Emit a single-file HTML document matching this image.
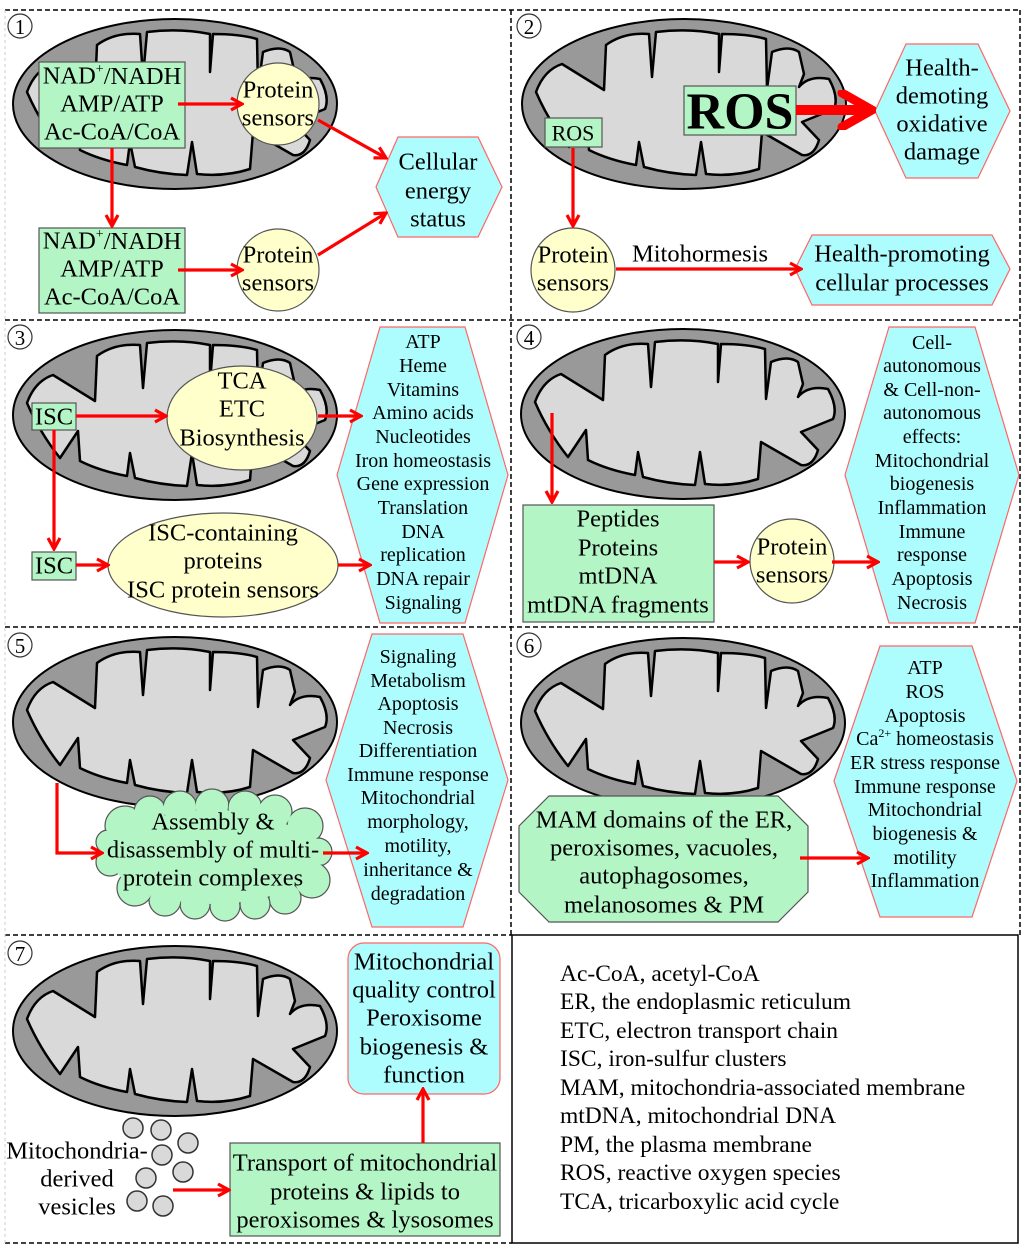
<!DOCTYPE html>
<html><head><meta charset="utf-8"><style>
html,body{margin:0;padding:0;background:#fff}
svg{display:block}
text{font-family:"Liberation Serif","Times New Roman",serif;fill:#000}
</style></head><body>
<svg width="1024" height="1250" viewBox="0 0 1024 1250" xmlns="http://www.w3.org/2000/svg" font-family="Liberation Serif, serif">
<defs>
<marker id="a" markerUnits="userSpaceOnUse" markerWidth="16" markerHeight="16" viewBox="0 0 16 16" refX="14" refY="8" orient="auto">
<path d="M3,2 L14,8 L3,14" fill="none" stroke="#f00" stroke-width="3.2" stroke-linejoin="miter"/>
</marker>
<marker id="b" markerUnits="userSpaceOnUse" markerWidth="40" markerHeight="40" viewBox="0 0 40 40" refX="36" refY="20" orient="auto">
<path d="M6,3 L36,20 L6,37" fill="none" stroke="#f00" stroke-width="9" stroke-linecap="round"/>
</marker>
<g id="mito">
<ellipse cx="175" cy="92" rx="162" ry="85" fill="#999" stroke="#000" stroke-width="2"/>
<path d="M27,80 Q35,58 53,52 L95,78 L97,33 Q115,20 140,22 L143,65 L147,20 Q180,16 210,22 L210,60 L213,22 Q240,22 257,27 L258,77 L263,40 Q280,33 290,40 L295,62 L290,75 Q300,63 320,67 Q330,85 325,97 L293,110 L310,128 Q305,145 293,143 L253,120 L250,157 Q225,165 197,162 L192,130 L187,163 Q160,162 135,155 L130,130 L127,153 Q100,148 80,138 L78,108 L60,135 Q40,110 27,80 Z" fill="#d9d9d9" stroke="#000" stroke-width="2.5" stroke-linejoin="round"/>
</g>
</defs>

<!-- dividers -->
<g stroke="#000" stroke-width="1.5" stroke-dasharray="5,3" fill="none">
<line x1="5" y1="10" x2="1020" y2="10"/>
<line x1="5" y1="320" x2="1020" y2="320"/>
<line x1="5" y1="627" x2="1020" y2="627"/>
<line x1="5" y1="935" x2="512" y2="935"/>
<line x1="5" y1="1243" x2="512" y2="1243"/>
<line x1="511" y1="10" x2="511" y2="935"/>
<line x1="1020" y1="10" x2="1020" y2="935"/>
</g>
<g stroke="#ccc" stroke-width="1" stroke-dasharray="3,3"><line x1="5" y1="10" x2="5" y2="1243"/></g>
<rect x="512" y="935" width="506" height="308" fill="none" stroke="#000" stroke-width="1.5"/>

<!-- numbers -->
<g fill="none" stroke="#333" stroke-width="1.2">
<circle cx="20" cy="26" r="12"/><circle cx="529" cy="26" r="12"/>
<circle cx="20" cy="337" r="12"/><circle cx="529" cy="337" r="12"/>
<circle cx="20" cy="645" r="12"/><circle cx="529" cy="645" r="12"/>
<circle cx="20" cy="953" r="12"/>
</g>
<g font-size="21" text-anchor="middle" dominant-baseline="central">
<text x="20" y="27">1</text><text x="529" y="27">2</text>
<text x="20" y="338">3</text><text x="529" y="338">4</text>
<text x="20" y="646">5</text><text x="529" y="646">6</text>
<text x="20" y="954">7</text>
</g>

<!-- mitochondria -->
<use href="#mito" transform="translate(0,12)"/>
<use href="#mito" transform="translate(509,12)"/>
<use href="#mito" transform="translate(0,323)"/>
<use href="#mito" transform="translate(508,322)"/>
<use href="#mito" transform="translate(0,630)"/>
<use href="#mito" transform="translate(508,631)"/>
<use href="#mito" transform="translate(0,939)"/>

<g font-size="24.5" text-anchor="middle" dominant-baseline="central">
<!-- Panel 1 -->
<rect x="39" y="62" width="146" height="86" fill="#b4f5c6" stroke="#555" stroke-width="1.2"/>
<text x="112" y="76">NAD<tspan font-size="14" dy="-7">+</tspan><tspan dy="7">/NADH</tspan></text>
<text x="112" y="104">AMP/ATP</text>
<text x="112" y="132">Ac-CoA/CoA</text>
<circle cx="278" cy="104" r="41" fill="#ffffcc" stroke="#555" stroke-width="1.2"/>
<text x="278" y="90">Protein</text><text x="278" y="118">sensors</text>
<polygon points="376,187 398,137 478,137 502,187 478,237 398,237" fill="#adfdff" stroke="#f66" stroke-width="1.2"/>
<text x="438" y="162">Cellular</text><text x="438" y="191">energy</text><text x="438" y="219">status</text>
<rect x="39" y="228" width="146" height="85" fill="#b4f5c6" stroke="#555" stroke-width="1.2"/>
<text x="112" y="241">NAD<tspan font-size="14" dy="-7">+</tspan><tspan dy="7">/NADH</tspan></text>
<text x="112" y="269">AMP/ATP</text>
<text x="112" y="297">Ac-CoA/CoA</text>
<circle cx="278" cy="270" r="41" fill="#ffffcc" stroke="#555" stroke-width="1.2"/>
<text x="278" y="255">Protein</text><text x="278" y="283">sensors</text>

<!-- Panel 2 -->
<rect x="545" y="118" width="57" height="29" fill="#b4f5c6" stroke="#555" stroke-width="1.2"/>
<text x="573" y="133" font-size="22">ROS</text>
<rect x="684" y="86" width="112" height="49" fill="#b4f5c6" stroke="#555" stroke-width="1.2"/>
<text x="740" y="112" font-size="52" font-weight="bold">ROS</text>
<polygon points="875,111 906,44 978,44 1010,111 978,178 906,178" fill="#adfdff" stroke="#f66" stroke-width="1.2"/>
<text x="942" y="68">Health-</text><text x="942" y="96">demoting</text><text x="942" y="124">oxidative</text><text x="942" y="152">damage</text>
<circle cx="573" cy="270" r="42" fill="#ffffcc" stroke="#555" stroke-width="1.2"/>
<text x="573" y="255">Protein</text><text x="573" y="283">sensors</text>
<text x="700" y="254">Mitohormesis</text>
<polygon points="795,269 812,235 992,235 1010,269 992,305 812,305" fill="#adfdff" stroke="#f66" stroke-width="1.2"/>
<text x="902" y="254">Health-promoting</text><text x="902" y="283">cellular  processes</text>

<!-- Panel 3 -->
<rect x="32" y="403" width="44" height="27" fill="#b4f5c6" stroke="#555" stroke-width="1.2"/>
<text x="54" y="417">ISC</text>
<ellipse cx="242" cy="418" rx="75" ry="52" fill="#ffffcc" stroke="#555" stroke-width="1.2"/>
<text x="242" y="381">TCA</text><text x="242" y="409">ETC</text><text x="242" y="438">Biosynthesis</text>
<rect x="32" y="552" width="44" height="28" fill="#b4f5c6" stroke="#555" stroke-width="1.2"/>
<text x="54" y="566">ISC</text>
<ellipse cx="223" cy="565" rx="115" ry="52" fill="#ffffcc" stroke="#555" stroke-width="1.2"/>
<text x="223" y="533">ISC-containing</text><text x="223" y="561">proteins</text><text x="223" y="590">ISC protein sensors</text>
<polygon points="337,475 380,327 465,327 508,475 465,623 380,623" fill="#adfdff" stroke="#f66" stroke-width="1.2"/>
<g font-size="20">
<text x="423" y="342">ATP</text><text x="423" y="366">Heme</text><text x="423" y="390">Vitamins</text><text x="423" y="413">Amino acids</text><text x="423" y="437">Nucleotides</text><text x="423" y="461">Iron homeostasis</text><text x="423" y="484">Gene expression</text><text x="423" y="508">Translation</text><text x="423" y="532">DNA</text><text x="423" y="555">replication</text><text x="423" y="579">DNA repair</text><text x="423" y="603">Signaling</text>
</g>

<!-- Panel 4 -->
<rect x="523" y="505" width="191" height="117" fill="#b4f5c6" stroke="#555" stroke-width="1.2"/>
<text x="618" y="519">Peptides</text><text x="618" y="548">Proteins</text><text x="618" y="576">mtDNA</text><text x="618" y="605">mtDNA fragments</text>
<circle cx="792" cy="561" r="42" fill="#ffffcc" stroke="#555" stroke-width="1.2"/>
<text x="792" y="547">Protein</text><text x="792" y="575">sensors</text>
<polygon points="845,475 889,327 975,327 1019,475 975,623 889,623" fill="#adfdff" stroke="#f66" stroke-width="1.2"/>
<g font-size="20">
<text x="932" y="343">Cell-</text><text x="932" y="366">autonomous</text><text x="932" y="390">&amp; Cell-non-</text><text x="932" y="413">autonomous</text><text x="932" y="437">effects:</text><text x="932" y="461">Mitochondrial</text><text x="932" y="484">biogenesis</text><text x="932" y="508">Inflammation</text><text x="932" y="532">Immune</text><text x="932" y="555">response</text><text x="932" y="579">Apoptosis</text><text x="932" y="603">Necrosis</text>
</g>

<!-- Panel 5 cloud -->
<g fill="#b4f5c6" stroke="#555" stroke-width="1.2">
<circle cx="125" cy="826" r="20"/><circle cx="150" cy="812" r="16"/><circle cx="180" cy="808" r="17"/><circle cx="212" cy="806" r="17"/><circle cx="245" cy="808" r="17"/><circle cx="275" cy="812" r="17"/><circle cx="305" cy="826" r="18"/><circle cx="318" cy="852" r="14"/><circle cx="312" cy="880" r="18"/><circle cx="285" cy="898" r="16"/><circle cx="255" cy="904" r="15"/><circle cx="225" cy="906" r="15"/><circle cx="195" cy="904" r="15"/><circle cx="165" cy="900" r="16"/><circle cx="135" cy="888" r="18"/><circle cx="110" cy="862" r="14"/><circle cx="108" cy="842" r="12"/>
</g>
<g fill="#b4f5c6">
<circle cx="125" cy="826" r="19"/><circle cx="150" cy="812" r="15"/><circle cx="180" cy="808" r="16"/><circle cx="212" cy="806" r="16"/><circle cx="245" cy="808" r="16"/><circle cx="275" cy="812" r="16"/><circle cx="305" cy="826" r="17"/><circle cx="318" cy="852" r="13"/><circle cx="312" cy="880" r="17"/><circle cx="285" cy="898" r="15"/><circle cx="255" cy="904" r="14"/><circle cx="225" cy="906" r="14"/><circle cx="195" cy="904" r="14"/><circle cx="165" cy="900" r="15"/><circle cx="135" cy="888" r="17"/><circle cx="110" cy="862" r="13"/><circle cx="108" cy="842" r="11"/>
<ellipse cx="213" cy="857" rx="102" ry="47"/>
</g>
<text x="213" y="822">Assembly &amp;</text><text x="213" y="850">disassembly of multi-</text><text x="213" y="878">protein complexes</text>
<polygon points="326,780 372,634 463,634 508,780 463,927 372,927" fill="#adfdff" stroke="#f66" stroke-width="1.2"/>
<g font-size="20">
<text x="418" y="657">Signaling</text><text x="418" y="681">Metabolism</text><text x="418" y="704">Apoptosis</text><text x="418" y="728">Necrosis</text><text x="418" y="751">Differentiation</text><text x="418" y="775">Immune response</text><text x="418" y="798">Mitochondrial</text><text x="418" y="822">morphology,</text><text x="418" y="846">motility,</text><text x="418" y="870">inheritance &amp;</text><text x="418" y="894">degradation</text>
</g>

<!-- Panel 6 -->
<polygon points="549,796 778,796 808,826 808,892 778,922 549,922 519,892 519,826" fill="#b4f5c6" stroke="#555" stroke-width="1.2"/>
<text x="664" y="820">MAM domains of the ER,</text><text x="664" y="848">peroxisomes, vacuoles,</text><text x="664" y="876">autophagosomes,</text><text x="664" y="905">melanosomes &amp; PM</text>
<polygon points="834,781 880,646 972,646 1017,781 972,917 880,917" fill="#adfdff" stroke="#f66" stroke-width="1.2"/>
<g font-size="20">
<text x="925" y="668">ATP</text><text x="925" y="692">ROS</text><text x="925" y="716">Apoptosis</text><text x="925" y="739">Ca<tspan font-size="12" dy="-6">2+</tspan><tspan dy="6"> homeostasis</tspan></text><text x="925" y="763">ER stress response</text><text x="925" y="787">Immune response</text><text x="925" y="810">Mitochondrial</text><text x="925" y="834">biogenesis &amp;</text><text x="925" y="858">motility</text><text x="925" y="881">Inflammation</text>
</g>

<!-- Panel 7 -->
<rect x="348" y="943" width="152" height="151" rx="16" fill="#adfdff" stroke="#f66" stroke-width="1.2"/>
<text x="424" y="962">Mitochondrial</text><text x="424" y="990">quality control</text><text x="424" y="1018">Peroxisome</text><text x="424" y="1047">biogenesis &amp;</text><text x="424" y="1075">function</text>
<rect x="230" y="1143" width="270" height="93" fill="#b4f5c6" stroke="#555" stroke-width="1.2"/>
<text x="365" y="1163">Transport of mitochondrial</text><text x="365" y="1192">proteins &amp; lipids to</text><text x="365" y="1220">peroxisomes &amp; lysosomes</text>
<g fill="#d9d9d9" stroke="#333" stroke-width="1.5">
<circle cx="133" cy="1128" r="10"/><circle cx="161" cy="1130" r="10"/><circle cx="188" cy="1143" r="10"/><circle cx="162" cy="1155" r="10"/><circle cx="146" cy="1178" r="10"/><circle cx="183" cy="1172" r="10"/><circle cx="137" cy="1201" r="10"/><circle cx="163" cy="1206" r="10"/>
</g>
<text x="77" y="1151">Mitochondria-</text><text x="77" y="1179">derived</text><text x="77" y="1207">vesicles</text>
</g>

<!-- legend -->
<g font-size="23.5" dominant-baseline="central">
<text x="560" y="974">Ac-CoA, acetyl-CoA</text>
<text x="560" y="1002">ER, the endoplasmic reticulum</text>
<text x="560" y="1031">ETC, electron transport chain</text>
<text x="560" y="1059">ISC, iron-sulfur clusters</text>
<text x="560" y="1088">MAM, mitochondria-associated membrane</text>
<text x="560" y="1116">mtDNA, mitochondrial DNA</text>
<text x="560" y="1145">PM, the plasma membrane</text>
<text x="560" y="1173">ROS, reactive  oxygen species</text>
<text x="560" y="1202">TCA, tricarboxylic acid cycle</text>
</g>

<!-- arrows -->
<g stroke="#f00" stroke-width="3.2" fill="none" marker-end="url(#a)">
<line x1="178" y1="104" x2="242" y2="104"/>
<line x1="318" y1="120" x2="386" y2="158"/>
<line x1="112" y1="148" x2="112" y2="226"/>
<line x1="178" y1="270" x2="242" y2="270"/>
<line x1="318" y1="255" x2="386" y2="213"/>
<line x1="573" y1="148" x2="573" y2="226"/>
<line x1="616" y1="269" x2="801" y2="269"/>
<line x1="76" y1="416" x2="166" y2="416"/>
<line x1="318" y1="416" x2="361" y2="416"/>
<line x1="54" y1="430" x2="54" y2="549"/>
<line x1="76" y1="565" x2="108" y2="565"/>
<line x1="338" y1="565" x2="370" y2="565"/>
<line x1="552" y1="413" x2="552" y2="502"/>
<line x1="714" y1="562" x2="748" y2="562"/>
<line x1="832" y1="562" x2="878" y2="562"/>
<polyline points="57,783 57,853 102,853"/>
<line x1="323" y1="853" x2="367" y2="853"/>
<line x1="800" y1="858" x2="868" y2="858"/>
<line x1="173" y1="1190" x2="229" y2="1190"/>
<line x1="423" y1="1143" x2="423" y2="1089"/>
</g>
<line x1="796" y1="110" x2="872" y2="110" stroke="#f00" stroke-width="10" marker-end="url(#b)"/>
</svg>
</body></html>
